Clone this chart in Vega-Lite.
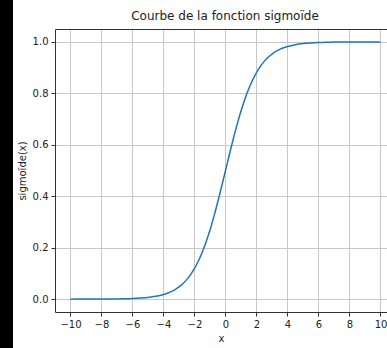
{
  "$schema": "https://vega.github.io/schema/vega-lite/v6.json",
  "autosize": {"type": "none"},
  "width": 332,
  "height": 283,
  "padding": {"left": 55, "top": 29, "right": 0, "bottom": 36},
  "background": "#000000",
  "config": {
    "view": {"fill": "#ffffff", "stroke": "#ffffff", "strokeWidth": 84},
    "font": "DejaVu Sans",
    "axis": {
      "labelFont": "DejaVu Sans",
      "labelFontSize": 10,
      "labelColor": "#222222",
      "titleFont": "DejaVu Sans",
      "titleFontSize": 10,
      "titleFontWeight": "normal",
      "titleColor": "#222222",
      "domainColor": "#333333",
      "domainWidth": 1,
      "tickColor": "#333333",
      "tickSize": 4,
      "tickWidth": 1,
      "labelPadding": 3,
      "gridColor": "#c8c8c8",
      "gridWidth": 1
    }
  },
  "title": {
    "text": "Courbe de la fonction sigmoïde",
    "font": "DejaVu Sans",
    "fontSize": 12,
    "fontWeight": "normal",
    "color": "#222222",
    "anchor": "middle",
    "dx": 4,
    "offset": 6
  },
  "data": {
    "values": [
      {"x": -10, "y": 0.0000454},
      {"x": -9.5, "y": 0.0000749},
      {"x": -9, "y": 0.000123},
      {"x": -8.5, "y": 0.000203},
      {"x": -8, "y": 0.000335},
      {"x": -7.5, "y": 0.000553},
      {"x": -7, "y": 0.000911},
      {"x": -6.5, "y": 0.001501},
      {"x": -6, "y": 0.002473},
      {"x": -5.5, "y": 0.00407},
      {"x": -5, "y": 0.006693},
      {"x": -4.5, "y": 0.010987},
      {"x": -4, "y": 0.017986},
      {"x": -3.75, "y": 0.02298},
      {"x": -3.5, "y": 0.029312},
      {"x": -3.25, "y": 0.03732},
      {"x": -3, "y": 0.047426},
      {"x": -2.75, "y": 0.06008},
      {"x": -2.5, "y": 0.075858},
      {"x": -2.25, "y": 0.09535},
      {"x": -2, "y": 0.119203},
      {"x": -1.75, "y": 0.14805},
      {"x": -1.5, "y": 0.182426},
      {"x": -1.25, "y": 0.2227},
      {"x": -1, "y": 0.268941},
      {"x": -0.75, "y": 0.32082},
      {"x": -0.5, "y": 0.377541},
      {"x": -0.25, "y": 0.43782},
      {"x": 0, "y": 0.5},
      {"x": 0.25, "y": 0.56218},
      {"x": 0.5, "y": 0.622459},
      {"x": 0.75, "y": 0.67918},
      {"x": 1, "y": 0.731059},
      {"x": 1.25, "y": 0.7773},
      {"x": 1.5, "y": 0.817574},
      {"x": 1.75, "y": 0.85195},
      {"x": 2, "y": 0.880797},
      {"x": 2.25, "y": 0.90465},
      {"x": 2.5, "y": 0.924142},
      {"x": 2.75, "y": 0.93992},
      {"x": 3, "y": 0.952574},
      {"x": 3.25, "y": 0.96268},
      {"x": 3.5, "y": 0.970688},
      {"x": 3.75, "y": 0.97702},
      {"x": 4, "y": 0.982014},
      {"x": 4.5, "y": 0.989013},
      {"x": 5, "y": 0.993307},
      {"x": 5.5, "y": 0.99593},
      {"x": 6, "y": 0.997527},
      {"x": 6.5, "y": 0.998499},
      {"x": 7, "y": 0.999089},
      {"x": 7.5, "y": 0.999447},
      {"x": 8, "y": 0.999665},
      {"x": 8.5, "y": 0.999797},
      {"x": 9, "y": 0.999877},
      {"x": 9.5, "y": 0.999925},
      {"x": 10, "y": 0.999955}
    ]
  },
  "layer": [
    {
      "mark": {"type": "line", "color": "#1f77b4", "strokeWidth": 1.5, "interpolate": "monotone"},
      "encoding": {
        "x": {
          "field": "x",
          "type": "quantitative",
          "scale": {"domain": [-11, 10.42], "nice": false, "zero": false},
          "axis": {
            "title": "x",
            "values": [-10, -8, -6, -4, -2, 0, 2, 4, 6, 8, 10],
            "format": "d",
            "titlePadding": 4,
            "grid": true
          }
        },
        "y": {
          "field": "y",
          "type": "quantitative",
          "scale": {"domain": [-0.05, 1.05], "nice": false, "zero": false},
          "axis": {
            "title": "sigmoïde(x)",
            "values": [0, 0.2, 0.4, 0.6, 0.8, 1.0],
            "format": ".1f",
            "titlePadding": 5,
            "grid": true
          }
        }
      }
    },
    {
      "mark": {"type": "line", "opacity": 0},
      "encoding": {
        "x": {
          "field": "x",
          "type": "quantitative",
          "scale": {"domain": [-11, 10.42], "nice": false, "zero": false},
          "axis": {"orient": "top", "title": null, "labels": false, "ticks": false, "grid": false, "domain": true}
        },
        "y": {"field": "y", "type": "quantitative"}
      }
    }
  ],
  "resolve": {"axis": {"x": "independent"}}
}
